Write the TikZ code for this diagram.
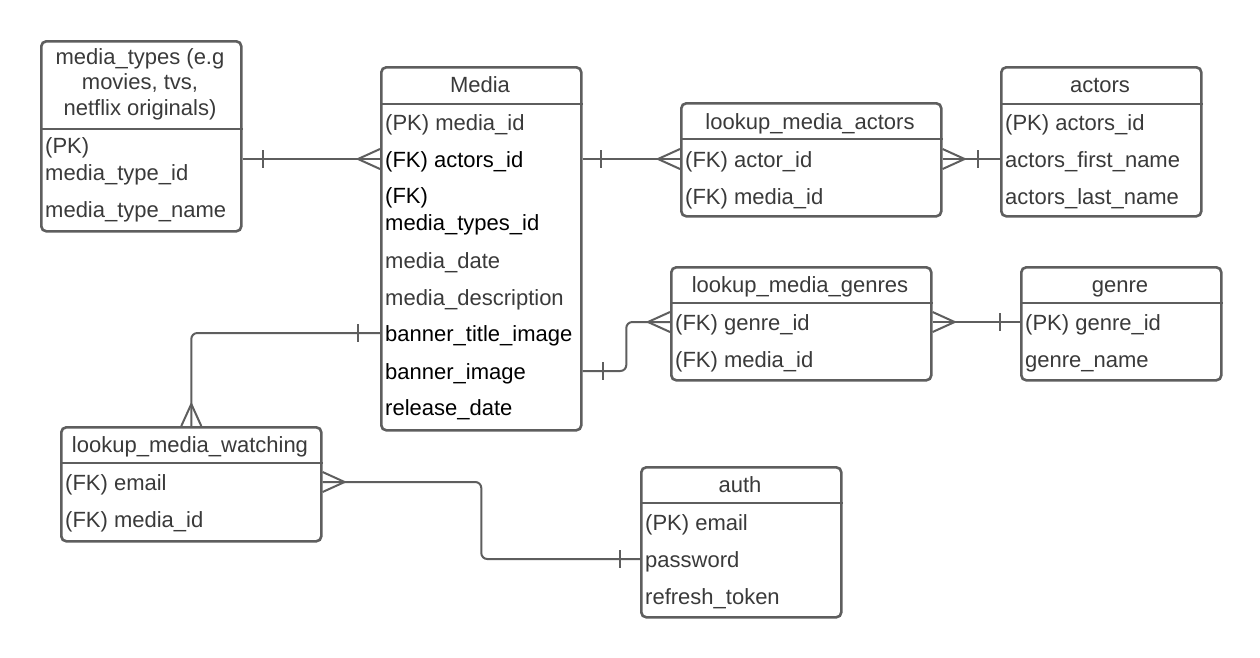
\documentclass[tikz,border=0pt]{standalone}
\usepackage{fontspec}
\setmainfont{Liberation Sans}
\usetikzlibrary{calc}
\definecolor{edge}{HTML}{5E5E5E}
\definecolor{txt}{HTML}{3A3A3A}

% relationship end marks
\newcommand{\barmark}[2]{\draw[conn] ($(#1)+(#2,-9)$) -- ($(#1)+(#2,9)$);}
% crow's foot, box to the right of the point
\newcommand{\crowleft}[1]{\draw[conn] ($(#1)+(0,-10)$) -- ($(#1)+(-22,0)$) -- ($(#1)+(0,10)$);}
% crow's foot, box to the left of the point
\newcommand{\crowright}[1]{\draw[conn] ($(#1)+(0,-10)$) -- ($(#1)+(22,0)$) -- ($(#1)+(0,10)$);}
% crow's foot, box below the point
\newcommand{\crowup}[1]{\draw[conn] ($(#1)+(-10,0)$) -- ($(#1)+(0,-22)$) -- ($(#1)+(10,0)$);}

\begin{document}
\begin{tikzpicture}[x=1pt,y=-1pt,
  tbl/.style={draw=edge, line width=2.6pt, rounded corners=5pt, anchor=north west,
              inner sep=0pt, fill=white},
  divider/.style={draw=edge, line width=2.6pt},
  ttlm/.style={font=\fontsize{22}{25.5}\selectfont, text=txt, inner sep=0pt, align=center},
  fldm/.style={font=\fontsize{22}{27}\selectfont, text=txt, inner sep=0pt, anchor=west, align=left},
  ttl/.style={font=\fontsize{22}{25}\selectfont, text=txt, inner sep=0pt, text height=21pt, text depth=5pt},
  fld/.style={font=\fontsize{22}{25}\selectfont, text=txt, inner sep=0pt, anchor=west, text height=21pt, text depth=5pt},
  dark/.style={text=black},
  conn/.style={draw=edge, line width=2pt, line join=round}]

\fill[white] (0,0) rectangle (1260,657);
\useasboundingbox (0,0) rectangle (1260,657);

% ---------- media_types ----------
\node[tbl, minimum width=200pt, minimum height=190pt] (mtypes) at (40,40) {};
\draw[divider] (mtypes.west |- 0,129) -- (mtypes.east |- 0,129);
\node[ttlm] (mtypesT) at (140,84) {media\_types (e.g\\movies, tvs,\\netflix originals)};
\node[fldm] (mt1) at (45,161) {(PK)\\media\_type\_id};
\node[fld] (mt2) at (45,209) {media\_type\_name};

% ---------- Media ----------
\node[tbl, minimum width=200pt, minimum height=363pt] (media) at (380,66) {};
\draw[divider] (media.west |- 0,104) -- (media.east |- 0,104);
\node[ttl] (mediaT) at (480,84) {Media};
\node[fld] (m1) at (385,122) {(PK) media\_id};
\node[fld, dark] (m2) at (385,159) {(FK) actors\_id};
\node[fldm, dark] (m3) at (385,211) {(FK)\\media\_types\_id};
\node[fld] (m4) at (385,260) {media\_date};
\node[fld] (m5) at (385,297) {media\_description};
\node[fld, dark] (m6) at (385,333) {banner\_title\_image};
\node[fld, dark] (m7) at (385,371) {banner\_image};
\node[fld, dark] (m8) at (385,407) {release\_date};

% ---------- lookup_media_actors ----------
\node[tbl, minimum width=260pt, minimum height=113pt] (lma) at (680,102) {};
\draw[divider] (lma.west |- 0,139) -- (lma.east |- 0,139);
\node[ttl] (lmaT) at (810,121) {lookup\_media\_actors};
\node[fld] (lma1) at (685,159) {(FK) actor\_id};
\node[fld] (lma2) at (685,196) {(FK) media\_id};

% ---------- actors ----------
\node[tbl, minimum width=200pt, minimum height=149pt] (actors) at (1000,66) {};
\draw[divider] (actors.west |- 0,104) -- (actors.east |- 0,104);
\node[ttl] (actorsT) at (1100,84) {actors};
\node[fld] (a1) at (1005,122) {(PK) actors\_id};
\node[fld] (a2) at (1005,159) {actors\_first\_name};
\node[fld] (a3) at (1005,196) {actors\_last\_name};

% ---------- lookup_media_genres ----------
\node[tbl, minimum width=260pt, minimum height=113pt] (lmg) at (670,266) {};
\draw[divider] (lmg.west |- 0,303) -- (lmg.east |- 0,303);
\node[ttl] (lmgT) at (800,284) {lookup\_media\_genres};
\node[fld] (lmg1) at (675,322) {(FK) genre\_id};
\node[fld] (lmg2) at (675,359) {(FK) media\_id};

% ---------- genre ----------
\node[tbl, minimum width=200pt, minimum height=113pt] (genre) at (1020,266) {};
\draw[divider] (genre.west |- 0,303) -- (genre.east |- 0,303);
\node[ttl] (genreT) at (1120,284) {genre};
\node[fld] (g1) at (1025,322) {(PK) genre\_id};
\node[fld] (g2) at (1025,359) {genre\_name};

% ---------- lookup_media_watching ----------
\node[tbl, minimum width=260pt, minimum height=114pt] (lmw) at (60,426) {};
\draw[divider] (lmw.west |- 0,463) -- (lmw.east |- 0,463);
\node[ttl] (lmwT) at (190,444) {lookup\_media\_watching};
\node[fld] (w1) at (65,482) {(FK) email};
\node[fld] (w2) at (65,519) {(FK) media\_id};

% ---------- auth ----------
\node[tbl, minimum width=200pt, minimum height=150pt] (auth) at (640,466) {};
\draw[divider] (auth.west |- 0,503) -- (auth.east |- 0,503);
\node[ttl] (authT) at (740,484) {auth};
\node[fld] (au1) at (645,522) {(PK) email};
\node[fld] (au2) at (645,559) {password};
\node[fld] (au3) at (645,596) {refresh\_token};

% ---------- relationships ----------
% media_types 1 -- * Media
\coordinate (r1a) at (mtypes.east |- m2);
\coordinate (r1b) at (media.west |- m2);
\draw[conn] (r1a) -- (r1b);
\barmark{r1a}{20}
\crowleft{r1b}

% Media 1 -- * lookup_media_actors
\coordinate (r2a) at (media.east |- m2);
\coordinate (r2b) at (lma.west |- lma1);
\draw[conn] (r2a) -- (r2b);
\barmark{r2a}{18}
\crowleft{r2b}

% lookup_media_actors * -- 1 actors
\coordinate (r3a) at (lma.east |- lma1);
\coordinate (r3b) at (actors.west |- a2);
\draw[conn] (r3a) -- (r3b);
\crowright{r3a}
\barmark{r3b}{-22}

% Media 1 -- * lookup_media_genres
\coordinate (r4a) at (media.east |- m7);
\coordinate (r4b) at (lmg.west |- lmg1);
\draw[conn, rounded corners=6pt] (r4a) -| ($(r4a)!.5!(r4b)$) |- (r4b);
\barmark{r4a}{20}
\crowleft{r4b}

% lookup_media_genres * -- 1 genre
\coordinate (r5a) at (lmg.east |- lmg1);
\coordinate (r5b) at (genre.west |- g1);
\draw[conn] (r5a) -- (r5b);
\crowright{r5a}
\barmark{r5b}{-20}

% Media 1 -- * lookup_media_watching
\coordinate (r6a) at (media.west |- m6);
\coordinate (r6b) at (lmw.north);
\draw[conn, rounded corners=6pt] (r6a) -| (r6b);
\barmark{r6a}{-22}
\crowup{r6b}

% lookup_media_watching * -- 1 auth
\coordinate (r7a) at (lmw.east |- w1);
\coordinate (r7b) at (auth.west |- au2);
\draw[conn, rounded corners=6pt] (r7a) -| ($(r7a)!.5!(r7b)$) |- (r7b);
\crowright{r7a}
\barmark{r7b}{-20}

\end{tikzpicture}
\end{document}
